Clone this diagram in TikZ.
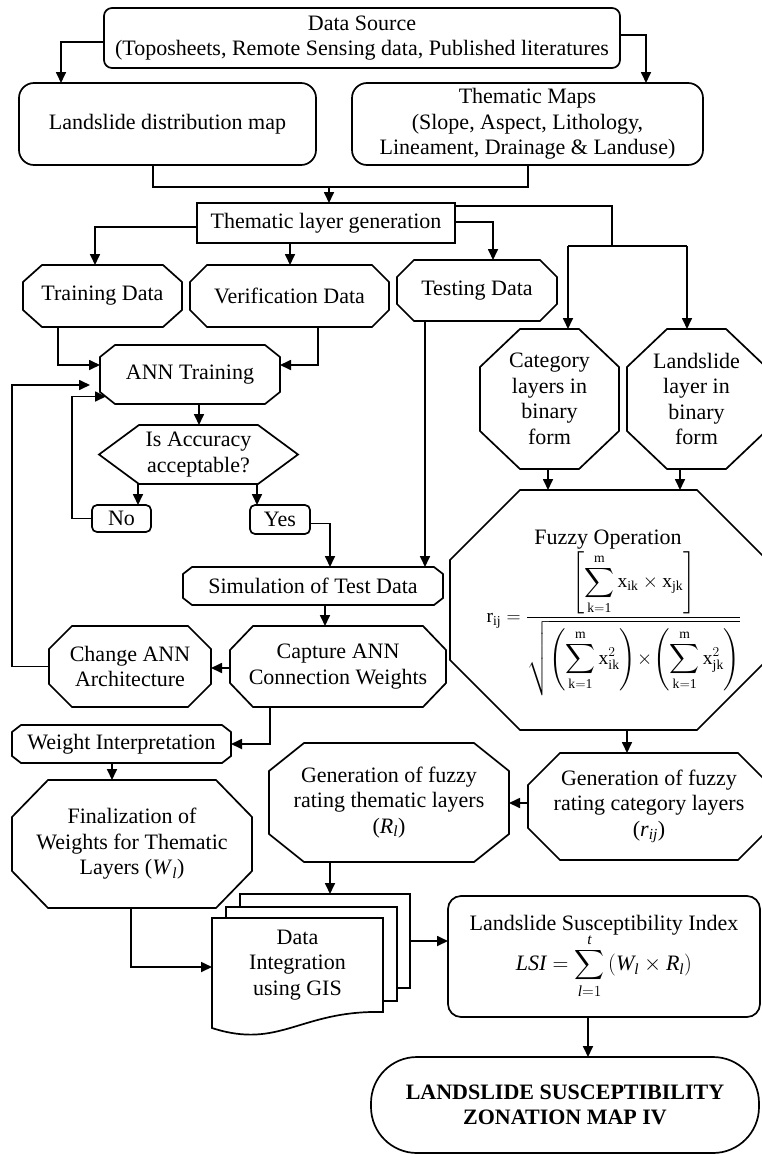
\documentclass[tikz,border=0pt]{standalone}
\usepackage{fix-cm}
\usepackage{amsmath}
\usepackage{exscale}
\usepackage{fontspec}
\setmainfont{Liberation Serif}
\usetikzlibrary{calc,arrows.meta}
\newcommand{\octdraw}[3]{\draw[shp] ($(#1.north west)+(#2,0)$) -- ($(#1.north east)+(-#2,0)$) -- ($(#1.north east)+(0,#3)$) -- ($(#1.south east)+(0,-#3)$) -- ($(#1.south east)+(-#2,0)$) -- ($(#1.south west)+(#2,0)$) -- ($(#1.south west)+(0,-#3)$) -- ($(#1.north west)+(0,#3)$) -- cycle;}
\begin{document}
\begin{tikzpicture}[x=1pt,y=-1pt,
  shp/.style={draw=black,line width=1.7pt,line join=miter},
  ln/.style={draw=black,line width=1.7pt},
  arr/.style={ln,-{Triangle[length=11pt,width=10pt]}},
  box/.style={inner sep=0pt,outer sep=0pt,align=center,font=\fontsize{22pt}{25.5pt}\selectfont},
  rbox/.style={box,shp,rounded corners=#1},
  wh/.style 2 args={minimum width=#1pt,minimum height=#2pt}]
\useasboundingbox (0,0) rectangle (761,1154);
\path[fill=white] (0,0) rectangle (761,1154);
% top boxes
\node[rbox=8pt,wh={516}{60}] (src) at (362,38) {Data Source\\(Toposheets, Remote Sensing data, Published literatures};
\node[rbox=15pt,wh={297}{82}] (lmap) at (167.5,124) {Landslide distribution map};
\node[rbox=15pt,wh={351}{82}] (tmap) at (527.5,124) {Thematic Maps\\(Slope, Aspect, Lithology,\\Lineament, Drainage \& Landuse)};
\node[box,shp,wh={258}{40}] (tlg) at (326,223) {Thematic layer generation};
% octagons
\node[box,wh={159}{62}] (train) at (102.5,296) {Training Data}; \octdraw{train}{19}{17}
\node[box,wh={199}{62}] (verif) at (289.5,296) {Verification Data}; \octdraw{verif}{17}{17}
\node[box,wh={160}{61}] (test) at (477,290.5) {Testing Data}; \octdraw{test}{17}{17}
\node[box,wh={139}{140}] (cat) at (549.5,399) {Category\\layers in\\binary\\form}; \octdraw{cat}{40}{38}
\node[box,wh={139}{140}] (lsl) at (696.5,399) {Landslide\\layer in\\binary\\form}; \octdraw{lsl}{40}{38}
\node[box,wh={180}{59}] (ann) at (190,374.5) {ANN Training}; \octdraw{ann}{15}{12}
\node[box,wh={199}{59}] (acc) at (198.5,454.5) {Is Accuracy\\acceptable?};
\draw[shp] ($(acc.north west)+(40,0)$) -- ($(acc.north east)+(-40,0)$) -- (acc.east) -- ($(acc.south east)+(-40,0)$) -- ($(acc.south west)+(40,0)$) -- (acc.west) -- cycle;
\node[rbox=5pt,wh={59}{27}] (no) at (121.5,518.5) {No};
\node[rbox=5pt,wh={60}{29}] (yes) at (280,519.5) {Yes};
\node[box,wh={260}{38}] (sim) at (313,586) {Simulation of Test Data}; \octdraw{sim}{9}{7}
\node[box,wh={162}{81}] (chg) at (130,666.5) {Change ANN\\Architecture}; \octdraw{chg}{23}{23}
\node[box,wh={216}{81}] (cap) at (338,666.5) {Capture ANN\\Connection Weights}; \octdraw{cap}{23}{24}
\node[box,wh={317}{240}] (fuzzy) at (608.5,610) {};
\octdraw{fuzzy}{70}{70}
\node[box] (fuzzyt) at (608,540) {Fuzzy Operation};
\node[box] (fuzzyf) at (614,624) {\fontsize{19.5pt}{22pt}\selectfont$\displaystyle\mathrm{r}_{\mathrm{ij}}=\frac{\left[\displaystyle\sum_{\mathrm{k=1}}^{\mathrm{m}}\mathrm{x}_{\mathrm{ik}}\times\mathrm{x}_{\mathrm{jk}}\right]}{\sqrt{\left(\displaystyle\sum_{\mathrm{k=1}}^{\mathrm{m}}\mathrm{x}_{\mathrm{ik}}^{2}\right)\!\times\!\left(\displaystyle\sum_{\mathrm{k=1}}^{\mathrm{m}}\mathrm{x}_{\mathrm{jk}}^{2}\right)}}$};
\node[box,wh={219}{38}] (wint) at (121.5,744) {Weight Interpretation}; \octdraw{wint}{9}{7}
\node[box,wh={240}{128}] (fin) at (132,844) {Finalization of\\Weights for Thematic\\Layers (\textit{W}\textsubscript{\textit{l}})}; \octdraw{fin}{36}{37}
\node[box,wh={240}{119}] (genth) at (389,802.5) {Generation of fuzzy\\rating thematic layers\\(\textit{R}\textsubscript{\textit{l}})}; \octdraw{genth}{35}{28}
\node[box,wh={242}{107}] (gencat) at (649,806.5) {Generation of fuzzy\\rating category layers\\(\textit{r}\textsubscript{\textit{ij}})}; \octdraw{gencat}{32}{32}
% data integration (stack of documents)
\node[box,wh={171}{94}] (dint) at (297.5,965) {Data\\Integration\\using GIS};
\begin{scope}[shift={(dint.north west)}]
\draw[shp] (28,-11) -- (28,-24) -- (198,-24) -- (198,70) -- (185,70);
\draw[shp] (14,0) -- (14,-11) -- (185,-11) -- (185,83) -- (171,83);
\draw[shp] (0,0) -- (171,0) -- (171,94) .. controls (88,92) and (68,132) .. (0,110) -- cycle;
\end{scope}
\node[rbox=13pt,wh={312}{121}] (lsi) at (604,956.5) {Landslide Susceptibility Index\\[-2pt]
 $\displaystyle \mathit{LSI}=\sum_{\mathit{l}=1}^{\mathit{t}}\left(\mathit{W}_{\mathit{l}}\times \mathit{R}_{\mathit{l}}\right)$};
\node[rbox=46pt,wh={388}{96}] (final) at (565,1105) {\textbf{LANDSLIDE SUSCEPTIBILITY}\\\textbf{ZONATION MAP IV}};
% connectors
\draw[arr] ($(src.west)+(0,4)$) -| ($(lmap.north west)+(42,0)$);
\draw[arr] ($(src.east)+(0,-3)$) -| ($(tmap.north east)+(-57,0)$);
\draw[ln] ($(lmap.south west)+(134,0)$) |- ($(tmap.south west)+(176,22)$) -- ($(tmap.south west)+(176,0)$);
\draw[arr] ($(tlg.north)+(3,-16)$) -- ($(tlg.north)+(3,0)$);
\draw[arr] ($(tlg.west)+(0,4)$) -| ($(train.north west)+(72,0)$);
\draw[arr] ($(tlg.south west)+(93,0)$) coordinate (t1) -- (t1 |- verif.north);
\draw[arr] ($(tlg.east)+(0,-1)$) -| ($(test.north west)+(96,0)$);
\draw[ln] ($(tlg.north east)+(0,3)$) -| ($(cat.north)+(62.5,-83)$);
\draw[ln] ($(cat.north)+(18.5,-83)$) -- ($(lsl.north)+(-9.5,-83)$);
\draw[arr] ($(cat.north)+(18.5,-83)$) -- ($(cat.north)+(18.5,0)$);
\draw[arr] ($(lsl.north)+(-9.5,-83)$) -- ($(lsl.north)+(-9.5,0)$);
\draw[arr] ($(train.south west)+(35,0)$) |- ($(ann.west)+(0,-9.5)$);
\draw[arr] ($(verif.south west)+(128,0)$) |- ($(ann.east)+(0,-9.5)$);
\draw[arr] ($(ann.south)+(9,0)$) coordinate (a1) -- (a1 |- acc.north);
\draw[arr] ($(acc.south west)+(39,0)$) coordinate (a2) -- (a2 |- no.north);
\draw[arr] ($(acc.south west)+(158,0)$) coordinate (a3) -- (a3 |- yes.north);
\draw[arr] (no.west) -- ($(no.west)+(-20,0)$) |- ($(ann.south west)+(6,-7.5)$);
\draw[arr] (chg.west) -- ($(chg.west)+(-37,0)$) |- ($(ann.west)+(-10,10.5)$);
\draw[arr] ($(yes.east)+(0,4)$) -| ($(sim.north west)+(147,0)$);
\draw[arr] ($(test.south west)+(28,0)$) coordinate (t2) -- (t2 |- sim.north);
\draw[arr] ($(sim.south)+(12,0)$) coordinate (s1) -- (s1 |- cap.north);
\draw[arr] ($(cap.west)+(0,1.5)$) -- ($(chg.east)+(0,1.5)$);
\draw[arr] ($(cap.south west)+(40,0)$) |- (wint.east);
\draw[arr] ($(wint.south)+(-9.5,0)$) coordinate (w1) -- (w1 |- fin.north);
\draw[arr] ($(cat.south)+(-1.5,0)$) coordinate (c1) -- (c1 |- fuzzy.north);
\draw[arr] ($(lsl.south)+(-16.5,0)$) coordinate (c2) -- (c2 |- fuzzy.north);
\draw[arr] ($(fuzzy.south)+(18.5,0)$) coordinate (f1) -- (f1 |- gencat.north);
\draw[arr] ($(gencat.west)+(0,-3.5)$) coordinate (g1) -- (g1 -| genth.east);
\draw[arr] ($(genth.south)+(-59,0)$) -- ($(dint.north west)+(118,-24)$);
\draw[arr] ($(fin.south)+(-1,0)$) |- ($(dint.west)+(0,2)$);
\draw[arr] ($(dint.north west)+(198,23)$) coordinate (b1) -- (b1 -| lsi.west);
\draw[arr] ($(lsi.south)+(-16,0)$) coordinate (l1) -- (l1 |- final.north);
\end{tikzpicture}
\end{document}
